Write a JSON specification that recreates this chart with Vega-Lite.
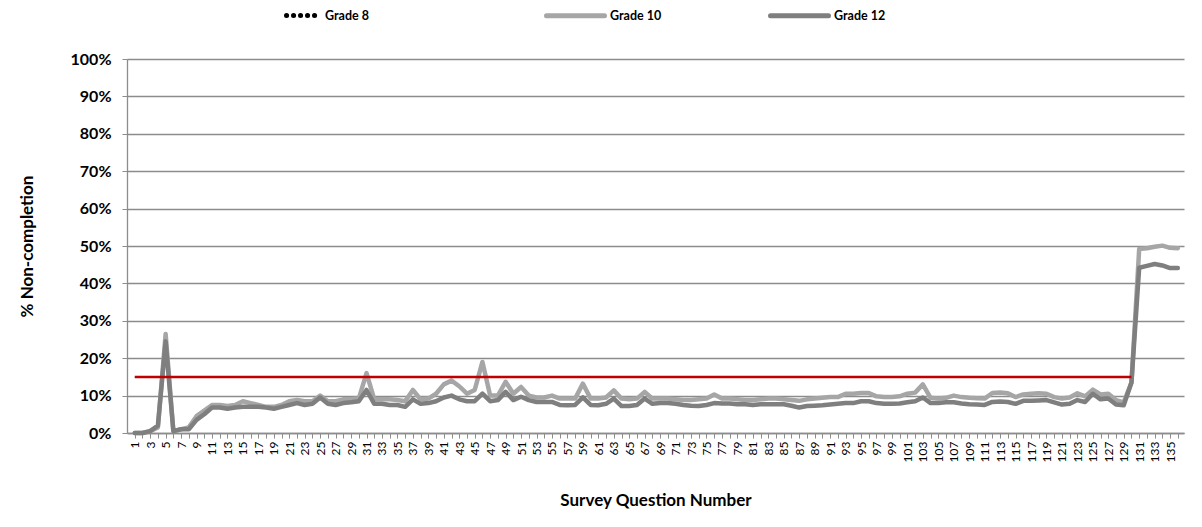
{
  "$schema": "https://vega.github.io/schema/vega-lite/v6.json",
  "width": 1057,
  "height": 374,
  "autosize": {"type": "none"},
  "padding": {"left": 127, "top": 59, "right": 18, "bottom": 94},
  "background": "white",
  "config": {"font": "Lato", "view": {"stroke": null}},
  "datasets": {
    "wide": [
      {"q":1,"Grade 10":0,"Grade 12":0},{"q":2,"Grade 10":0,"Grade 12":0},{"q":3,"Grade 10":0.5,"Grade 12":0.5},{"q":4,"Grade 10":1.5,"Grade 12":2},
      {"q":5,"Grade 10":26.5,"Grade 12":24.5},{"q":6,"Grade 10":0.5,"Grade 12":0.5},{"q":7,"Grade 10":1,"Grade 12":1},{"q":8,"Grade 10":1.5,"Grade 12":1},
      {"q":9,"Grade 10":4.5,"Grade 12":3.5},{"q":10,"Grade 10":6,"Grade 12":5},{"q":11,"Grade 10":7.5,"Grade 12":6.8},{"q":12,"Grade 10":7.5,"Grade 12":6.8},
      {"q":13,"Grade 10":7.2,"Grade 12":6.5},{"q":14,"Grade 10":7.5,"Grade 12":6.8},{"q":15,"Grade 10":8.5,"Grade 12":7},{"q":16,"Grade 10":8,"Grade 12":7},
      {"q":17,"Grade 10":7.5,"Grade 12":7},{"q":18,"Grade 10":7,"Grade 12":6.8},{"q":19,"Grade 10":7,"Grade 12":6.5},{"q":20,"Grade 10":7.5,"Grade 12":7},
      {"q":21,"Grade 10":8.5,"Grade 12":7.5},{"q":22,"Grade 10":8.8,"Grade 12":8},{"q":23,"Grade 10":8.5,"Grade 12":7.5},{"q":24,"Grade 10":8.5,"Grade 12":7.8},
      {"q":25,"Grade 10":10,"Grade 12":9.5},{"q":26,"Grade 10":8.5,"Grade 12":7.8},{"q":27,"Grade 10":8.5,"Grade 12":7.5},{"q":28,"Grade 10":9,"Grade 12":8},
      {"q":29,"Grade 10":9,"Grade 12":8.2},{"q":30,"Grade 10":9.2,"Grade 12":8.5},{"q":31,"Grade 10":16,"Grade 12":11.5},{"q":32,"Grade 10":9,"Grade 12":7.8},
      {"q":33,"Grade 10":9,"Grade 12":7.8},{"q":34,"Grade 10":9,"Grade 12":7.5},{"q":35,"Grade 10":8.8,"Grade 12":7.5},{"q":36,"Grade 10":8.5,"Grade 12":7},
      {"q":37,"Grade 10":11.5,"Grade 12":9},{"q":38,"Grade 10":9,"Grade 12":7.8},{"q":39,"Grade 10":9.2,"Grade 12":8},{"q":40,"Grade 10":10.5,"Grade 12":8.5},
      {"q":41,"Grade 10":13,"Grade 12":9.5},{"q":42,"Grade 10":14,"Grade 12":10},{"q":43,"Grade 10":12.5,"Grade 12":9},{"q":44,"Grade 10":10.5,"Grade 12":8.5},
      {"q":45,"Grade 10":11.5,"Grade 12":8.5},{"q":46,"Grade 10":19,"Grade 12":10.5},{"q":47,"Grade 10":10,"Grade 12":8.5},{"q":48,"Grade 10":10,"Grade 12":8.8},
      {"q":49,"Grade 10":13.7,"Grade 12":11},{"q":50,"Grade 10":10.5,"Grade 12":8.8},{"q":51,"Grade 10":12.3,"Grade 12":9.7},{"q":52,"Grade 10":10,"Grade 12":8.8},
      {"q":53,"Grade 10":9.5,"Grade 12":8.3},{"q":54,"Grade 10":9.5,"Grade 12":8.3},{"q":55,"Grade 10":10,"Grade 12":8.3},{"q":56,"Grade 10":9.2,"Grade 12":7.5},
      {"q":57,"Grade 10":9.2,"Grade 12":7.4},{"q":58,"Grade 10":9.2,"Grade 12":7.5},{"q":59,"Grade 10":13.2,"Grade 12":9.5},{"q":60,"Grade 10":9.2,"Grade 12":7.5},
      {"q":61,"Grade 10":9.2,"Grade 12":7.4},{"q":62,"Grade 10":9.5,"Grade 12":7.8},{"q":63,"Grade 10":11.4,"Grade 12":9.2},{"q":64,"Grade 10":9.2,"Grade 12":7.2},
      {"q":65,"Grade 10":9,"Grade 12":7.2},{"q":66,"Grade 10":9.2,"Grade 12":7.5},{"q":67,"Grade 10":11,"Grade 12":9.2},{"q":68,"Grade 10":9.2,"Grade 12":7.8},
      {"q":69,"Grade 10":9.2,"Grade 12":8},{"q":70,"Grade 10":9.2,"Grade 12":8},{"q":71,"Grade 10":9,"Grade 12":7.8},{"q":72,"Grade 10":8.8,"Grade 12":7.5},
      {"q":73,"Grade 10":8.8,"Grade 12":7.3},{"q":74,"Grade 10":9,"Grade 12":7.2},{"q":75,"Grade 10":9.2,"Grade 12":7.5},{"q":76,"Grade 10":10.3,"Grade 12":8},
      {"q":77,"Grade 10":9.2,"Grade 12":7.9},{"q":78,"Grade 10":9.2,"Grade 12":7.9},{"q":79,"Grade 10":9,"Grade 12":7.7},{"q":80,"Grade 10":8.8,"Grade 12":7.7},
      {"q":81,"Grade 10":8.8,"Grade 12":7.5},{"q":82,"Grade 10":9,"Grade 12":7.7},{"q":83,"Grade 10":9.2,"Grade 12":7.7},{"q":84,"Grade 10":9.2,"Grade 12":7.7},
      {"q":85,"Grade 10":9,"Grade 12":7.7},{"q":86,"Grade 10":8.8,"Grade 12":7.3},{"q":87,"Grade 10":8.6,"Grade 12":6.8},{"q":88,"Grade 10":9,"Grade 12":7.2},
      {"q":89,"Grade 10":9.2,"Grade 12":7.3},{"q":90,"Grade 10":9.4,"Grade 12":7.4},{"q":91,"Grade 10":9.6,"Grade 12":7.6},{"q":92,"Grade 10":9.6,"Grade 12":7.8},
      {"q":93,"Grade 10":10.5,"Grade 12":8},{"q":94,"Grade 10":10.5,"Grade 12":8},{"q":95,"Grade 10":10.7,"Grade 12":8.5},{"q":96,"Grade 10":10.7,"Grade 12":8.5},
      {"q":97,"Grade 10":9.8,"Grade 12":8},{"q":98,"Grade 10":9.6,"Grade 12":7.8},{"q":99,"Grade 10":9.6,"Grade 12":7.8},{"q":100,"Grade 10":9.8,"Grade 12":7.9},
      {"q":101,"Grade 10":10.5,"Grade 12":8.2},{"q":102,"Grade 10":10.8,"Grade 12":8.5},{"q":103,"Grade 10":13,"Grade 12":9.5},{"q":104,"Grade 10":9.4,"Grade 12":8},
      {"q":105,"Grade 10":9.2,"Grade 12":8},{"q":106,"Grade 10":9.4,"Grade 12":8.2},{"q":107,"Grade 10":10,"Grade 12":8.2},{"q":108,"Grade 10":9.6,"Grade 12":7.9},
      {"q":109,"Grade 10":9.4,"Grade 12":7.7},{"q":110,"Grade 10":9.3,"Grade 12":7.6},{"q":111,"Grade 10":9.2,"Grade 12":7.5},{"q":112,"Grade 10":10.7,"Grade 12":8.3},
      {"q":113,"Grade 10":10.8,"Grade 12":8.4},{"q":114,"Grade 10":10.6,"Grade 12":8.3},{"q":115,"Grade 10":9.6,"Grade 12":7.8},{"q":116,"Grade 10":10.3,"Grade 12":8.6},
      {"q":117,"Grade 10":10.5,"Grade 12":8.6},{"q":118,"Grade 10":10.6,"Grade 12":8.7},{"q":119,"Grade 10":10.5,"Grade 12":8.8},{"q":120,"Grade 10":9.6,"Grade 12":8.2},
      {"q":121,"Grade 10":9.2,"Grade 12":7.6},{"q":122,"Grade 10":9.5,"Grade 12":7.8},{"q":123,"Grade 10":10.6,"Grade 12":8.8},{"q":124,"Grade 10":9.8,"Grade 12":8.3},
      {"q":125,"Grade 10":11.6,"Grade 12":10.5},{"q":126,"Grade 10":10.3,"Grade 12":9},{"q":127,"Grade 10":10.5,"Grade 12":9.2},{"q":128,"Grade 10":8.8,"Grade 12":7.6},
      {"q":129,"Grade 10":8.2,"Grade 12":7.4},{"q":130,"Grade 10":13.5,"Grade 12":13.5},{"q":131,"Grade 10":49.2,"Grade 12":44.2},{"q":132,"Grade 10":49.4,"Grade 12":44.7},
      {"q":133,"Grade 10":49.8,"Grade 12":45.2},{"q":134,"Grade 10":50.1,"Grade 12":44.8},{"q":135,"Grade 10":49.5,"Grade 12":44.1},{"q":136,"Grade 10":49.4,"Grade 12":44.1}
    ],
    "threshold": [{"q":1,"pct":15},{"q":130,"pct":15}],
    "grade8": []
  },
  "encoding": {
    "x": {
      "field": "q", "type": "quantitative",
      "scale": {"domain": [0, 136.8], "nice": false, "zero": false},
      "axis": {
        "title": "Survey Question Number",
        "values": [1,2,3,4,5,6,7,8,9,10,11,12,13,14,15,16,17,18,19,20,21,22,23,24,25,26,27,28,29,30,31,32,33,34,35,36,37,38,39,40,41,42,43,44,45,46,47,48,49,50,51,52,53,54,55,56,57,58,59,60,61,62,63,64,65,66,67,68,69,70,71,72,73,74,75,76,77,78,79,80,81,82,83,84,85,86,87,88,89,90,91,92,93,94,95,96,97,98,99,100,101,102,103,104,105,106,107,108,109,110,111,112,113,114,115,116,117,118,119,120,121,122,123,124,125,126,127,128,129,130,131,132,133,134,135,136],
        "tickCount": 400,
        "labelExpr": "datum.value % 2 === 1 ? toString(datum.value) : ''",
        "labelAngle": -90,
        "labelFontSize": 12,
        "labelColor": "#000000",
        "labelOverlap": false,
        "labelFlush": false,
        "labelPadding": 3,
        "tickSize": 5,
        "tickColor": "#8C8C8C",
        "domainColor": "#8C8C8C",
        "domainWidth": 1.3,
        "grid": false,
        "titleFontSize": 17,
        "titleFontWeight": "bold",
        "titleColor": "#000000",
        "titlePadding": 31
      }
    },
    "y": {
      "field": "pct", "type": "quantitative",
      "scale": {"domain": [0, 100], "nice": false},
      "axis": {
        "title": "% Non-completion",
        "values": [0,10,20,30,40,50,60,70,80,90,100],
        "tickCount": 40,
        "labelExpr": "datum.value + '%'",
        "labelFontSize": 16,
        "labelFontWeight": "bold",
        "labelColor": "#000000",
        "labelOverlap": false,
        "labelPadding": 11,
        "tickSize": 5,
        "tickColor": "#8C8C8C",
        "domainColor": "#8C8C8C",
        "domainWidth": 1.3,
        "grid": true,
        "gridColor": "#8C8C8C",
        "gridWidth": 1.3,
        "titleFontSize": 17,
        "titleFontWeight": "bold",
        "titleColor": "#000000",
        "titlePadding": 34
      }
    }
  },
  "layer": [
    {
      "data": {"name": "grade8"},
      "mark": {"type": "line", "color": "#000000", "strokeWidth": 5, "strokeCap": "round"},
      "encoding": {
        "strokeDash": {
          "field": "grade", "type": "nominal",
          "scale": {"domain": ["Grade 8"], "range": [[0.1, 6.9, 0.1, 6.9, 0.1, 6.9, 0.1, 6.9, 0.1, 6.9, 0.1, 30]]},
          "legend": {
            "title": null, "orient": "none", "direction": "horizontal",
            "legendX": 134, "legendY": -75,
            "symbolType": "stroke", "symbolSize": 3364, "symbolStrokeWidth": 5,
            "symbolStrokeColor": "#000000",
            "labelFontSize": 12.5, "labelFontWeight": "bold", "labelColor": "#000000",
            "labelOffset": 1,
            "encode": {"symbols": {"update": {"strokeCap": {"value": "round"}, "strokeDashOffset": {"value": 42.1}}}}
          }
        }
      }
    },
    {
      "data": {"name": "wide"},
      "transform": [{"fold": ["Grade 10", "Grade 12"], "as": ["grade", "pct"]}],
      "mark": {"type": "line", "strokeWidth": 4.5, "strokeCap": "round", "strokeJoin": "round"},
      "encoding": {
        "color": {
          "field": "grade", "type": "nominal",
          "scale": {"domain": ["Grade 10", "Grade 12"], "range": ["#A6A6A6", "#7F7F7F"]},
          "legend": {
            "title": null, "orient": "none", "direction": "horizontal",
            "legendX": 417, "legendY": -75,
            "symbolType": "stroke", "symbolSize": 3364, "symbolStrokeWidth": 5,
            "labelFontSize": 12.5, "labelFontWeight": "bold", "labelColor": "#000000",
            "columnPadding": 98, "labelOffset": 3,
            "encode": {"symbols": {"update": {"strokeCap": {"value": "round"}}}}
          }
        }
      }
    },
    {
      "data": {"name": "threshold"},
      "mark": {"type": "line", "color": "#C00000", "strokeWidth": 2.5},
      "encoding": {}
    }
  ],
  "resolve": {"scale": {"color": "independent", "strokeDash": "independent"}, "legend": {"color": "independent", "strokeDash": "independent"}}
}
